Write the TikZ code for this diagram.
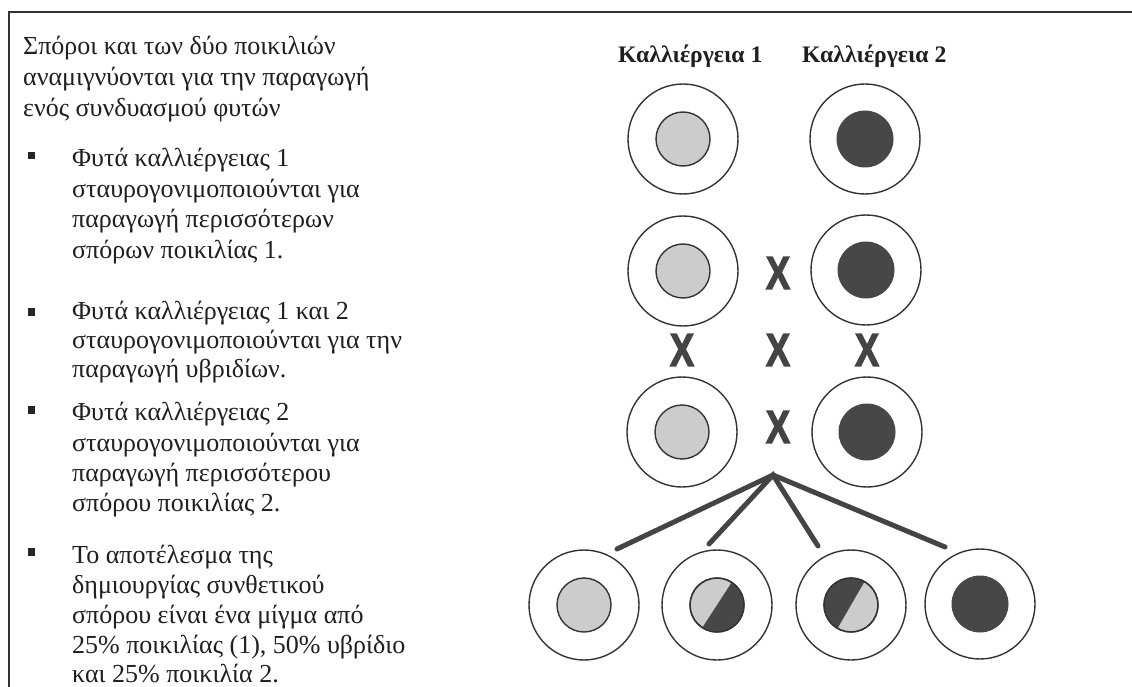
\documentclass[tikz,border=0pt]{standalone}
\usepackage{fontspec}
\usepackage{graphicx}
\setmainfont{Liberation Serif}
\newfontfamily\xfont{Liberation Sans Bold}[FakeBold=3]
\definecolor{ink}{HTML}{333333}
\definecolor{seedgray}{HTML}{CCCCCC}
\definecolor{seeddark}{HTML}{474747}
\definecolor{xgray}{HTML}{444444}
\begin{document}
\begin{tikzpicture}[x=1pt,y=-1pt,
  txt/.style={anchor=base west,inner sep=0pt,font=\fontsize{26}{30}\selectfont,text=black!88},
  hdr/.style={anchor=base west,inner sep=0pt,font=\fontsize{23.7}{28}\selectfont\bfseries,text=black!88},
  ring/.style={circle,draw=ink,line width=1.4pt,minimum size=110pt,inner sep=0pt},
  lightseed/.style={circle,draw=ink,line width=1.4pt,fill=seedgray,minimum size=54pt,inner sep=0pt},
  darkseed/.style={circle,draw=seeddark,line width=1pt,fill=seeddark,minimum size=56pt,inner sep=0pt},
  cross/.style={inner sep=0pt,text=xgray,font=\fontsize{46}{46}\selectfont\xfont},
  bulletsq/.style={rectangle,fill=black!85,minimum size=7.5pt,inner sep=0pt},
  branch/.style={draw=xgray,line width=5pt,line cap=round},
  frame/.style={draw=black!80,line width=1.8pt}
]
\useasboundingbox (0,0) rectangle (1132,687);
\fill[white] (0,0) rectangle (1132,687);
% frame
\coordinate (fr1) at (9,687);
\coordinate (fr2) at (9,12);
\coordinate (fr3) at (1132,12);
\draw[frame] (fr1) -- (fr2) -- (fr3);

% left text
\node[txt] (t1) at (23,55) {Σπόροι και των δύο ποικιλιών};
\node[txt] (t2) at (23,86) {αναμιγνύονται για την παραγωγή};
\node[txt] (t3) at (23,117) {ενός συνδυασμού φυτών};

\node[bulletsq] (b1) at (31.5,155.5) {};
\node[txt] (t4) at (72,167) {Φυτά καλλιέργειας 1};
\node[txt] (t5) at (72,197) {σταυρογονιμοποιούνται για};
\node[txt] (t6) at (72,227) {παραγωγή περισσότερων};
\node[txt] (t7) at (72,258) {σπόρων ποικιλίας 1.};

\node[bulletsq] (b2) at (31.5,312) {};
\node[txt] (t8) at (72,319) {Φυτά καλλιέργειας 1 και 2};
\node[txt] (t9) at (72,348) {σταυρογονιμοποιούνται για την};
\node[txt] (t10) at (72,377) {παραγωγή υβριδίων.};

\node[bulletsq] (b3) at (31.5,410) {};
\node[txt] (t11) at (72,420) {Φυτά καλλιέργειας 2};
\node[txt] (t12) at (72,451) {σταυρογονιμοποιούνται για};
\node[txt] (t13) at (72,481) {παραγωγή περισσότερου};
\node[txt] (t14) at (72,511) {σπόρου ποικιλίας 2.};

\node[bulletsq] (b4) at (31.5,552) {};
\node[txt] (t15) at (72,563) {Το αποτέλεσμα της};
\node[txt] (t16) at (72,593) {δημιουργίας συνθετικού};
\node[txt] (t17) at (72,623) {σπόρου είναι ένα μίγμα από};
\node[txt] (t18) at (72,653) {25\% ποικιλίας (1), 50\% υβρίδιο};
\node[txt] (t19) at (72,682) {και 25\% ποικιλία 2.};

% headers
\node[hdr] (h1) at (618,63) {Καλλιέργεια 1};
\node[hdr] (h2) at (802,63) {Καλλιέργεια 2};

% row 1
\node[ring] (r1a) at (683,139) {};
\node[lightseed] (s1a) at (683,139) {};
\node[ring] (r1b) at (865,139) {};
\node[darkseed] (s1b) at (865,139) {};

% row 2
\node[ring] (r2a) at (683,271) {};
\node[lightseed] (s2a) at (683,271) {};
\node[ring] (r2b) at (866,270) {};
\node[darkseed] (s2b) at (866,270) {};
\node[cross] (x2) at (778,273) {\scalebox{0.78}[1]{X}};

% middle crosses
\node[cross] (xa) at (682,350) {\scalebox{0.78}[1]{X}};
\node[cross] (xb) at (778,350) {\scalebox{0.78}[1]{X}};
\node[cross] (xc) at (867,350) {\scalebox{0.78}[1]{X}};

% row 3
\node[ring] (r3a) at (682,432) {};
\node[lightseed] (s3a) at (682,432) {};
\node[ring] (r3b) at (867,432) {};
\node[darkseed] (s3b) at (867,432) {};
\node[cross] (x3) at (778,427) {\scalebox{0.78}[1]{X}};

% branches
\coordinate (apex) at (773,475);
\coordinate (e1) at (617,549);
\coordinate (e2) at (709,544);
\coordinate (e3) at (818,546);
\coordinate (e4) at (945,547);
\draw[branch] (e1) -- (apex) -- (e4);
\draw[branch] (e2) -- (apex) -- (e3);

% bottom row
\node[ring] (r4a) at (584,605) {};
\node[lightseed] (s4a) at (584,605) {};

\node[ring] (r4b) at (717,605) {};
\node[lightseed] (s4b) at (717,605) {};
\fill[seeddark] (s4b.center) ++(-57:27) arc (-57:123:27) -- cycle;
\draw[ink,line width=1.4pt] (s4b.center) circle (27);

\node[ring] (r4c) at (851,605) {};
\node[lightseed] (s4c) at (851,605) {};
\fill[seeddark] (s4c.center) ++(120:27) arc (120:300:27) -- cycle;
\draw[ink,line width=1.4pt] (s4c.center) circle (27);

\node[ring] (r4d) at (980,604) {};
\node[darkseed] (s4d) at (980,604) {};
\end{tikzpicture}
\end{document}
